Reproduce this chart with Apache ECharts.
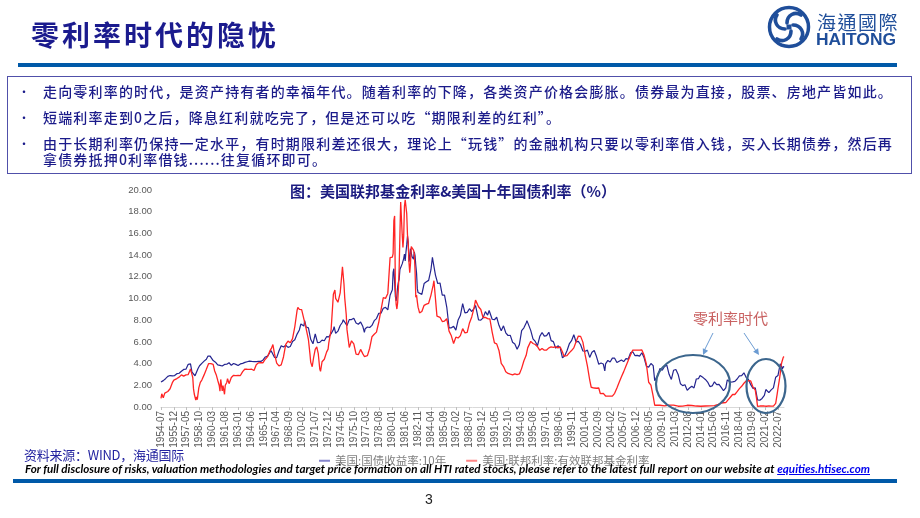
<!DOCTYPE html>
<html><head><meta charset="utf-8">
<script src="https://cdn.jsdelivr.net/npm/echarts@6/dist/echarts.min.js"></script>
<style>
html,body{margin:0;padding:0;background:#fff}
body{width:920px;height:518px;position:relative;overflow:hidden;font-family:"Noto Sans CJK SC",sans-serif}
#chart{position:absolute;left:0;top:0;width:920px;height:518px}
.abs{position:absolute;white-space:nowrap;line-height:1}
.bl{font-size:14px;color:#1b1b8a;font-weight:500}
.dot{font-size:12px;color:#1b1b8a;left:18px}
</style></head>
<body>
<div id="chart"></div>
<div class="abs" id="title" style="left:31px;top:20px;font-size:28px;font-weight:700;color:#1b1b8e">零利率时代的隐忧</div>
<div class="abs" style="left:18px;top:63px;width:879px;height:4px;background:#0059a8"></div>
<svg class="abs" style="left:766px;top:5px" width="46" height="44" viewBox="-23 -22 46 44">
  <circle cx="0" cy="0" r="19.5" fill="none" stroke="#1f4e9a" stroke-width="3.5"/>
  <g fill="none" stroke="#1f4e9a" stroke-width="3.6" stroke-linecap="round">
    <path d="M-2,-4 C-2,-12 6,-16 12,-12"/>
    <path d="M4,-2 C12,-2 16,6 12,12" />
    <path d="M2,4 C2,12 -6,16 -12,12"/>
    <path d="M-4,2 C-12,2 -16,-6 -12,-12"/>
  </g>
  <rect x="-2.5" y="-2.5" width="5" height="5" fill="#1f4e9a"/>
</svg>
<div class="abs" id="logo1" style="left:817px;top:12px;font-size:19px;color:#1f4e9a;font-family:'Noto Sans CJK TC',sans-serif">海通國際</div>
<div class="abs" id="logo2" style="left:817px;top:31px;font-size:17px;font-weight:700;color:#1f4e9a;font-family:'Liberation Sans',Arial,sans-serif">HAITONG</div>

<div class="abs" style="left:7px;top:76px;width:903px;height:96px;border:1.5px solid #5050aa"></div>
<div class="abs dot" style="top:86px">•</div>
<div class="abs dot" style="top:112px">•</div>
<div class="abs dot" style="top:138px">•</div>
<div class="abs bl" id="l1" style="left:43px;top:84px">走向零利率的时代，是资产持有者的幸福年代。随着利率的下降，各类资产价格会膨胀。债券最为直接，股票、房地产皆如此。</div>
<div class="abs bl" id="l2" style="left:43px;top:110px">短端利率走到0之后，降息红利就吃完了，但是还可以吃“期限利差的红利”。</div>
<div class="abs bl" id="l3" style="left:43px;top:136px">由于长期利率仍保持一定水平，有时期限利差还很大，理论上“玩钱”的金融机构只要以零利率借入钱，买入长期债券，然后再</div>
<div class="abs bl" id="l4" style="left:43px;top:152px">拿债券抵押0利率借钱......往复循环即可。</div>

<div class="abs" id="ctitle" style="left:290px;top:183px;font-size:15px;font-weight:700;color:#1b1b80">图：美国联邦基金利率&amp;美国十年国债利率（%）</div>

<div class="abs" id="src" style="left:24px;top:448px;font-size:13px;color:#2424a0">资料来源：WIND，海通国际</div>
<div class="abs" id="disc" style="left:25px;top:463px;font-size:12px;font-weight:700;font-style:italic;color:#000;font-family:Lato,'Liberation Sans',sans-serif;transform-origin:0 0">For full disclosure of risks, valuation methodologies and target price formation on all HTI rated stocks, please refer to the latest full report on our website at <span style="color:#0000ee;text-decoration:underline">equities.htisec.com</span></div>
<div class="abs" style="left:13px;top:479px;width:884px;height:4px;background:#0059a8"></div>
<div class="abs" style="left:425px;top:492px;font-size:14px;color:#222;font-family:'Liberation Sans',Arial,sans-serif">3</div>

<script>
// ---------- data ----------
const tickLabels = ['1954-07','1955-12','1957-05','1958-10','1960-03','1961-08','1963-01','1964-06','1965-11','1967-04','1968-09','1970-02','1971-07','1972-12','1974-05','1975-10','1977-03','1978-08','1980-01','1981-06','1982-11','1984-04','1985-09','1987-02','1988-07','1989-12','1991-05','1992-10','1994-03','1995-08','1997-01','1998-06','1999-11','2001-04','2002-09','2004-02','2005-07','2006-12','2008-05','2009-10','2011-03','2012-08','2014-01','2015-06','2016-11','2018-04','2019-09','2021-02','2022-07'];
const seriesNames = ['美国:国债收益率:10年','美国:联邦利率:有效联邦基金利率'];
const firstMonth = '1954-07';
const lastMonth = '2023-03';

const treasury10y = [
['1954-07',2.30],['1954-10',2.43],
['1955-01',2.61],['1955-04',2.82],['1955-07',2.90],['1955-10',2.87],
['1956-01',2.90],['1956-04',3.07],['1956-07',3.11],['1956-10',3.30],
['1957-01',3.46],['1957-04',3.48],['1957-07',3.93],['1957-09',3.98],['1957-10',3.97],['1957-12',3.21],
['1958-01',3.09],['1958-04',2.88],['1958-06',2.97],['1958-08',3.54],['1958-10',3.80],
['1959-01',4.02],['1959-04',4.23],['1959-07',4.40],['1959-09',4.68],['1959-10',4.53],['1959-12',4.69],
['1960-01',4.72],['1960-04',4.28],['1960-07',4.13],['1960-10',3.88],
['1961-01',3.84],['1961-04',3.78],['1961-07',3.92],['1961-10',3.94],
['1962-01',4.08],['1962-04',3.84],['1962-07',4.01],['1962-10',3.93],
['1963-01',3.83],['1963-04',3.97],['1963-07',4.02],['1963-10',4.11],
['1964-01',4.17],['1964-04',4.23],['1964-07',4.20],['1964-10',4.19],
['1965-01',4.19],['1965-04',4.20],['1965-07',4.20],['1965-10',4.34],
['1966-01',4.61],['1966-04',4.69],['1966-07',5.02],['1966-08',5.22],['1966-10',5.01],
['1967-01',4.58],['1967-04',4.55],['1967-07',5.16],['1967-10',5.64],['1967-11',5.75],
['1968-01',5.53],['1968-04',5.69],['1968-07',5.50],['1968-10',5.58],
['1969-01',6.04],['1969-04',6.19],['1969-07',6.72],['1969-10',7.10],['1969-12',7.65],
['1970-01',7.79],['1970-04',7.46],['1970-05',7.97],['1970-07',7.37],['1970-10',7.29],
['1971-01',6.24],['1971-04',5.83],['1971-07',6.73],['1971-10',5.93],
['1972-01',5.95],['1972-04',6.17],['1972-07',6.11],['1972-10',6.48],
['1973-01',6.46],['1973-04',6.76],['1973-07',7.13],['1973-08',7.40],['1973-10',6.79],
['1974-01',6.99],['1974-04',7.51],['1974-07',7.81],['1974-08',8.04],['1974-10',7.90],
['1975-01',7.50],['1975-04',8.05],['1975-07',8.06],['1975-10',8.19],
['1976-01',7.74],['1976-04',7.63],['1976-07',7.83],['1976-10',7.41],['1976-12',6.87],
['1977-01',7.21],['1977-04',7.37],['1977-07',7.33],['1977-10',7.52],
['1978-01',7.96],['1978-04',8.15],['1978-07',8.64],['1978-10',8.64],
['1979-01',9.10],['1979-04',9.18],['1979-07',8.95],['1979-10',10.30],['1979-12',10.39],
['1980-01',10.80],['1980-02',12.41],['1980-03',12.75],['1980-04',11.47],['1980-05',10.18],['1980-06',9.78],
['1980-07',10.25],['1980-08',11.10],['1980-09',11.51],['1980-10',11.75],['1980-11',12.68],['1980-12',12.84],
['1981-01',12.57],['1981-02',13.19],['1981-03',13.12],['1981-04',13.68],['1981-05',14.10],['1981-06',13.47],
['1981-07',14.28],['1981-08',14.94],['1981-09',15.75],['1981-10',15.15],['1981-11',13.39],['1981-12',13.72],
['1982-01',14.59],['1982-02',14.43],['1982-03',13.86],['1982-04',13.87],['1982-05',13.62],['1982-06',14.30],
['1982-07',13.95],['1982-08',13.06],['1982-09',12.34],['1982-10',10.91],['1982-11',10.55],['1982-12',10.54],
['1983-01',10.46],['1983-04',10.38],['1983-07',11.38],['1983-10',11.54],
['1984-01',11.67],['1984-04',12.63],['1984-06',13.80],['1984-07',13.36],['1984-10',12.16],
['1985-01',11.38],['1985-04',11.43],['1985-07',10.31],['1985-10',10.31],
['1986-01',9.19],['1986-04',7.30],['1986-07',7.30],['1986-10',7.43],
['1987-01',7.08],['1987-04',8.02],['1987-07',8.45],['1987-10',9.52],
['1988-01',8.67],['1988-04',8.72],['1988-07',9.06],['1988-10',8.80],
['1989-01',9.09],['1989-03',9.36],['1989-04',9.18],['1989-07',8.02],['1989-10',8.01],
['1990-01',8.21],['1990-04',8.79],['1990-07',8.47],['1990-09',8.89],['1990-10',8.72],
['1991-01',8.09],['1991-04',8.04],['1991-07',8.27],['1991-10',7.53],
['1992-01',7.03],['1992-04',7.48],['1992-07',6.84],['1992-10',6.59],
['1993-01',6.60],['1993-04',5.97],['1993-07',5.81],['1993-10',5.33],
['1994-01',5.75],['1994-04',7.04],['1994-07',7.30],['1994-10',7.74],['1994-11',7.96],
['1995-01',7.78],['1995-04',7.06],['1995-07',6.28],['1995-10',6.04],
['1996-01',5.65],['1996-04',6.51],['1996-07',6.87],['1996-10',6.53],
['1997-01',6.58],['1997-04',6.89],['1997-07',6.12],['1997-10',6.03],
['1998-01',5.42],['1998-04',5.64],['1998-07',5.46],['1998-10',4.53],
['1999-01',4.72],['1999-04',5.18],['1999-07',5.81],['1999-10',6.11],
['2000-01',6.66],['2000-04',5.99],['2000-07',6.05],['2000-10',5.74],
['2001-01',5.16],['2001-04',5.14],['2001-07',5.24],['2001-10',4.57],
['2002-01',5.04],['2002-04',5.21],['2002-07',4.65],['2002-10',3.94],
['2003-01',4.05],['2003-04',3.96],['2003-06',3.33],['2003-07',3.98],['2003-10',4.29],
['2004-01',4.15],['2004-04',4.50],['2004-07',4.50],['2004-10',4.10],
['2005-01',4.22],['2005-04',4.34],['2005-07',4.18],['2005-10',4.46],
['2006-01',4.42],['2006-04',4.99],['2006-07',5.09],['2006-10',4.73],
['2007-01',4.76],['2007-04',4.69],['2007-07',5.00],['2007-10',4.53],
['2008-01',3.74],['2008-04',3.68],['2008-07',4.01],['2008-10',3.81],['2008-12',2.42],
['2009-01',2.52],['2009-04',2.93],['2009-07',3.56],['2009-10',3.39],
['2010-01',3.73],['2010-04',3.85],['2010-07',3.01],['2010-10',2.54],
['2011-01',3.39],['2011-04',3.46],['2011-07',3.00],['2011-10',2.15],
['2012-01',1.97],['2012-04',2.05],['2012-07',1.53],['2012-10',1.75],
['2013-01',1.91],['2013-04',1.76],['2013-07',2.58],['2013-10',2.62],['2013-12',2.90],
['2014-01',2.86],['2014-04',2.71],['2014-07',2.54],['2014-10',2.30],
['2015-01',1.88],['2015-04',1.94],['2015-07',2.32],['2015-10',2.07],
['2016-01',2.09],['2016-04',1.81],['2016-07',1.50],['2016-10',1.76],['2016-12',2.49],
['2017-01',2.43],['2017-04',2.30],['2017-07',2.32],['2017-10',2.36],
['2018-01',2.58],['2018-04',2.87],['2018-07',2.89],['2018-10',3.15],
['2019-01',2.71],['2019-04',2.53],['2019-07',2.06],['2019-10',1.71],
['2020-01',1.76],['2020-04',0.66],['2020-07',0.62],['2020-10',0.79],
['2021-01',1.08],['2021-03',1.61],['2021-04',1.64],['2021-07',1.32],['2021-10',1.58],
['2022-01',1.76],['2022-04',2.75],['2022-07',2.90],['2022-10',3.98],
['2023-01',3.53],['2023-02',3.75],['2023-03',3.66]
];

const fedFunds = [
['1954-07',0.80],['1954-08',1.22],['1954-10',0.85],['1954-12',1.28],
['1955-01',1.39],['1955-04',1.43],['1955-07',1.68],['1955-10',2.24],['1955-12',2.48],
['1956-01',2.45],['1956-04',2.62],['1956-07',2.75],['1956-10',2.96],
['1957-01',2.84],['1957-04',2.96],['1957-07',2.99],['1957-10',3.50],['1957-12',2.98],
['1958-01',2.72],['1958-02',1.67],['1958-03',1.20],['1958-05',0.63],['1958-06',0.93],['1958-07',0.68],['1958-09',1.76],['1958-11',2.27],
['1959-01',2.48],['1959-04',2.96],['1959-07',3.47],['1959-10',4.00],['1959-12',3.99],
['1960-01',3.99],['1960-04',3.92],['1960-06',3.32],['1960-08',2.98],['1960-10',2.47],['1960-12',1.98],
['1961-01',1.45],['1961-02',2.54],['1961-04',1.49],['1961-05',1.98],['1961-07',1.17],['1961-08',2.00],['1961-10',2.26],['1961-11',2.62],
['1962-01',2.15],['1962-04',2.72],['1962-07',2.92],['1962-10',2.90],
['1963-01',2.92],['1963-04',2.90],['1963-07',3.26],['1963-10',3.50],
['1964-01',3.48],['1964-04',3.47],['1964-07',3.48],['1964-10',3.36],['1964-12',3.45],
['1965-01',3.90],['1965-04',4.07],['1965-07',4.09],['1965-10',4.08],['1965-12',4.32],
['1966-01',4.42],['1966-04',4.65],['1966-07',5.17],['1966-09',5.40],['1966-11',5.76],
['1967-01',4.94],['1967-04',4.05],['1967-07',3.79],['1967-10',3.88],
['1968-01',4.61],['1968-04',5.78],['1968-07',6.07],['1968-10',5.92],
['1969-01',6.30],['1969-04',7.41],['1969-07',8.90],['1969-08',9.19],['1969-10',9.00],
['1970-01',8.98],['1970-04',8.10],['1970-07',7.21],['1970-10',6.20],['1970-12',4.90],
['1971-01',4.14],['1971-03',3.71],['1971-05',4.63],['1971-07',5.31],['1971-09',5.55],['1971-11',4.91],
['1972-01',3.50],['1972-02',3.29],['1972-04',4.17],['1972-07',4.40],['1972-10',5.06],['1972-12',5.33],
['1973-01',5.94],['1973-04',7.12],['1973-07',10.40],['1973-09',10.78],['1973-10',10.01],['1973-12',9.95],
['1974-01',9.65],['1974-04',10.51],['1974-07',12.92],['1974-09',11.34],['1974-10',10.06],['1974-12',8.53],
['1975-01',7.13],['1975-04',5.49],['1975-07',6.10],['1975-10',5.82],
['1976-01',4.87],['1976-04',4.82],['1976-07',5.31],['1976-10',4.90],['1976-12',4.65],
['1977-01',4.61],['1977-04',4.73],['1977-07',5.42],['1977-10',6.47],
['1978-01',6.70],['1978-04',6.90],['1978-07',7.81],['1978-10',8.96],
['1979-01',10.07],['1979-04',10.01],['1979-07',10.47],['1979-10',13.77],['1979-12',13.78],
['1980-01',13.82],['1980-02',14.13],['1980-03',17.19],['1980-04',17.61],['1980-05',10.98],['1980-06',9.47],
['1980-07',9.03],['1980-08',9.61],['1980-09',10.87],['1980-10',12.81],['1980-11',15.85],['1980-12',18.90],
['1981-01',19.08],['1981-02',15.93],['1981-03',14.70],['1981-04',15.72],['1981-05',18.52],['1981-06',19.10],
['1981-07',19.04],['1981-08',17.82],['1981-09',15.87],['1981-10',15.08],['1981-11',13.31],['1981-12',12.37],
['1982-01',13.22],['1982-02',14.78],['1982-03',14.68],['1982-04',14.94],['1982-05',14.45],['1982-06',14.15],
['1982-07',12.59],['1982-08',10.12],['1982-09',10.31],['1982-10',9.71],['1982-11',9.20],['1982-12',8.95],
['1983-01',8.68],['1983-04',8.80],['1983-07',9.37],['1983-10',9.48],
['1984-01',9.56],['1984-04',10.29],['1984-07',11.23],['1984-08',11.64],['1984-10',9.99],['1984-12',8.38],
['1985-01',8.35],['1985-04',8.27],['1985-07',7.88],['1985-10',7.92],
['1986-01',8.14],['1986-04',6.99],['1986-07',6.56],['1986-10',5.85],
['1987-01',6.43],['1987-04',6.36],['1987-07',6.58],['1987-10',7.22],
['1988-01',6.83],['1988-04',6.87],['1988-07',7.75],['1988-10',8.30],
['1989-01',9.12],['1989-03',9.85],['1989-05',9.81],['1989-07',9.24],['1989-10',8.99],
['1990-01',8.23],['1990-04',8.26],['1990-07',8.15],['1990-10',8.11],['1990-12',7.31],
['1991-01',6.91],['1991-04',5.91],['1991-07',5.82],['1991-10',5.21],['1991-12',4.43],
['1992-01',4.03],['1992-04',3.73],['1992-07',3.25],['1992-10',3.09],
['1993-01',3.02],['1993-04',2.96],['1993-07',3.06],['1993-10',2.99],
['1994-01',3.05],['1994-04',3.56],['1994-07',4.26],['1994-10',4.76],['1994-12',5.45],
['1995-01',5.53],['1995-04',6.05],['1995-07',5.85],['1995-10',5.76],
['1996-01',5.56],['1996-04',5.22],['1996-07',5.40],['1996-10',5.24],
['1997-01',5.25],['1997-04',5.45],['1997-07',5.54],['1997-10',5.50],
['1998-01',5.56],['1998-04',5.45],['1998-07',5.54],['1998-10',5.07],['1998-12',4.68],
['1999-01',4.63],['1999-04',4.74],['1999-07',4.99],['1999-10',5.20],
['2000-01',5.45],['2000-04',6.02],['2000-07',6.54],['2000-10',6.51],['2000-12',6.40],
['2001-01',5.98],['2001-04',4.80],['2001-07',3.77],['2001-10',2.49],['2001-12',1.82],
['2002-01',1.73],['2002-04',1.75],['2002-07',1.73],['2002-10',1.75],['2002-12',1.24],
['2003-01',1.24],['2003-04',1.26],['2003-07',1.01],['2003-10',1.01],
['2004-01',1.00],['2004-04',1.00],['2004-07',1.26],['2004-10',1.76],
['2005-01',2.28],['2005-04',2.79],['2005-07',3.26],['2005-10',3.78],
['2006-01',4.29],['2006-04',4.79],['2006-07',5.24],['2006-10',5.25],
['2007-01',5.25],['2007-04',5.25],['2007-07',5.26],['2007-10',4.76],
['2008-01',3.94],['2008-04',2.28],['2008-07',2.01],['2008-10',0.97],['2008-12',0.16],
['2009-01',0.15],['2009-07',0.16],['2010-01',0.11],['2010-07',0.18],
['2011-01',0.17],['2011-07',0.07],['2012-01',0.08],['2012-07',0.16],
['2013-01',0.14],['2013-07',0.09],['2014-01',0.07],['2014-07',0.09],
['2015-01',0.11],['2015-07',0.13],['2015-12',0.24],
['2016-01',0.34],['2016-04',0.37],['2016-07',0.39],['2016-10',0.40],['2016-12',0.54],
['2017-01',0.65],['2017-04',0.90],['2017-07',1.15],['2017-10',1.15],
['2018-01',1.41],['2018-04',1.69],['2018-07',1.91],['2018-10',2.19],
['2019-01',2.40],['2019-04',2.42],['2019-07',2.40],['2019-10',1.83],
['2020-01',1.55],['2020-03',0.65],['2020-04',0.05],['2020-07',0.09],['2020-10',0.09],
['2021-01',0.09],['2021-04',0.07],['2021-07',0.10],['2021-10',0.08],
['2022-01',0.08],['2022-03',0.20],['2022-04',0.33],['2022-05',0.77],['2022-06',1.21],['2022-07',1.68],
['2022-09',2.56],['2022-10',3.08],['2022-11',3.78],['2022-12',4.10],
['2023-01',4.33],['2023-02',4.57],['2023-03',4.65]
];

// ---------- monthly category axis ----------
const months = [];
{
  let [y, m] = firstMonth.split('-').map(Number);
  const [ly, lm] = lastMonth.split('-').map(Number);
  while (y < ly || (y === ly && m <= lm)) {
    months.push(y + '-' + String(m).padStart(2, '0'));
    m++; if (m > 12) { m = 1; y++; }
  }
}
const tickSet = new Set(tickLabels);
const showTick = (i, v) => tickSet.has(v);

const chart = echarts.init(document.getElementById('chart'), null, {renderer: 'canvas'});
chart.setOption({
  animation: false,
  textStyle: {fontFamily: "'Liberation Sans', Arial, sans-serif"},
  grid: {left: 161, right: 136, top: 190, bottom: 111},
  xAxis: {
    type: 'category', data: months, boundaryGap: false,
    axisLine: {lineStyle: {color: '#d9d9d9', width: 1}},
    axisTick: {show: true, interval: showTick, length: 3, lineStyle: {color: '#bfbfbf'}},
    axisLabel: {interval: showTick, rotate: 90, fontSize: 10, color: '#595959', margin: 4}
  },
  yAxis: {
    type: 'value', min: 0, max: 20, interval: 2,
    axisLine: {show: false}, axisTick: {show: false}, splitLine: {show: false},
    axisLabel: {formatter: v => v.toFixed(2), fontSize: 9.5, color: '#595959', margin: 9}
  },
  legend: {
    left: 314, top: 450, icon: 'rect', itemWidth: 11, itemHeight: 2, itemGap: 20,
    textStyle: {fontSize: 11.5, color: '#808080', fontFamily: "'Noto Sans CJK SC', sans-serif"},
    data: [
      {name: seriesNames[0], itemStyle: {color: '#8585cc'}},
      {name: seriesNames[1], itemStyle: {color: '#ff8585'}}
    ]
  },
  series: [
    {name: seriesNames[0], type: 'line', data: treasury10y, showSymbol: false, z: 2,
     lineStyle: {color: '#24248f', width: 1.2}, itemStyle: {color: '#24248f'}},
    {name: seriesNames[1], type: 'line', data: fedFunds, showSymbol: false, z: 3,
     lineStyle: {color: '#ff2424', width: 1.3}, itemStyle: {color: '#ff2424'}}
  ],
  graphic: [
    {type: 'text', left: 693, top: 311, z: 10,
     style: {text: '零利率时代', fontSize: 15, fill: '#c96262', fontFamily: "'Noto Sans CJK SC', sans-serif"}},
    {type: 'ellipse', z: 10, shape: {cx: 693, cy: 384, rx: 37, ry: 29},
     style: {fill: 'none', stroke: '#3c668d', lineWidth: 2.2}},
    {type: 'ellipse', z: 10, shape: {cx: 766, cy: 386, rx: 19.5, ry: 27},
     style: {fill: 'none', stroke: '#3c668d', lineWidth: 2.2}},
    {type: 'line', z: 10, shape: {x1: 713, y1: 333, x2: 704, y2: 351}, style: {stroke: '#6b9bd2', lineWidth: 1}},
    {type: 'polygon', z: 10, shape: {points: [[703, 355], [708.2, 350.7], [702.8, 348.3]]}, style: {fill: '#6b9bd2'}},
    {type: 'line', z: 10, shape: {x1: 744, y1: 333, x2: 756, y2: 351}, style: {stroke: '#6b9bd2', lineWidth: 1}},
    {type: 'polygon', z: 10, shape: {points: [[759, 355], [758.1, 348.3], [753.1, 351.7]]}, style: {fill: '#6b9bd2'}}
  ]
});

// ---------- fit slide texts to their measured widths ----------
function fitSpacing(el, w) {
  const n = [...el.textContent].length;
  const nat = el.getBoundingClientRect().width;
  const ls = (w - nat) / n;
  el.style.letterSpacing = ls + 'px';
  return ls;
}
function fitScale(el, w) {
  const nat = el.getBoundingClientRect().width;
  el.style.transform = 'scaleX(' + (w / nat) + ')';
}
fitSpacing(document.getElementById('title'), 248);
const ls = fitSpacing(document.getElementById('l1'), 850);
['l2', 'l3', 'l4'].forEach(id => document.getElementById(id).style.letterSpacing = ls + 'px');
fitSpacing(document.getElementById('ctitle'), 326);
fitSpacing(document.getElementById('logo1'), 82);
fitScale(document.getElementById('logo2'), 80);
fitSpacing(document.getElementById('src'), 160);
fitScale(document.getElementById('disc'), 845);
</script>
</body></html>
